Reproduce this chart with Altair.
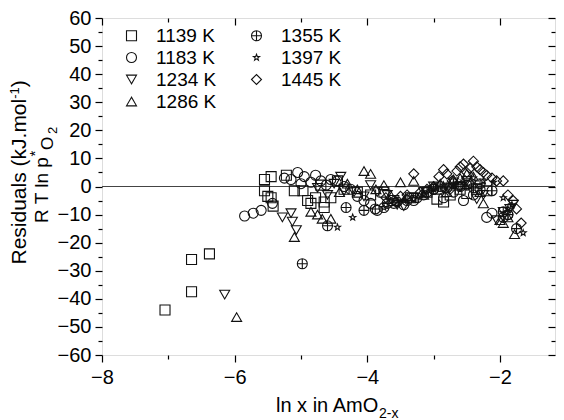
import altair as alt
import pandas as pd

FONT = "Liberation Sans"

temps = ["1139 K", "1183 K", "1234 K", "1286 K", "1355 K", "1397 K", "1445 K"]

x_1139 = [-7.05, -6.65, -6.65, -6.38, -5.55, -5.55, -5.5, -5.45, -5.45, -5.42, -5.22, -5.1, -4.97, -4.9,
          -4.85, -4.78, -4.7, -4.65, -4.65, -4.55, -4.45, -4.35, -4.15, -3.95, -3.75, -3.6, -3.35, -3.1,
          -2.95, -2.85, -2.75, -2.6, -2.5, -2.35, -2.2]
y_1139 = [-44, -37.5, -26, -24, 2.5, -1.5, -3.5, 3.5, -4, -7, 4, -1.5, -1.5, -5,
          -6, -4, 0.5, -5.5, -7.5, -4, 2, -1, -2, -3, -2, -5, -4, -2,
          -4.5, -5.5, -3, -1, -2.5, -1, -1.5]

x_1183 = [-5.85, -5.72, -5.6, -5.43, -5.25, -5.15, -5.05, -5.0, -4.95, -4.85, -4.78, -4.7, -4.62, -4.55,
          -4.45, -4.35, -4.25, -4.15, -4.05, -3.95, -3.85, -3.75, -3.6, -3.45, -3.3, -3.15, -3.0, -2.85,
          -2.7, -2.55, -2.4, -2.3, -2.2, -2.12, -1.95, -1.88]
y_1183 = [-10.5, -9.5, -8.5, -6, 3, 2.5, 5, 1, 3.5, 1.5, 4, 2, 0.5, 2.5,
          2, 0, -1, -3.5, -5, -6, -8.5, -7.5, -6, -6.5, -5, -3, -1, -4,
          -2, -5, -3, -1, -11, -9.5, -11, -10]

x_1234 = [-6.15, -5.28, -5.15, -5.13, -5.07, -4.75, -4.6, -4.5, -4.4, -4.35, -4.2, -4.05, -3.95, -3.85,
          -3.7, -3.55, -3.45, -3.3, -3.15, -3.0, -2.85, -2.7, -2.6, -2.5, -2.35, -2.25, -2.05, -1.95,
          -1.85, -1.8]
y_1234 = [-38.5, -11, -9.5, -12.5, -15.5, -0.5, -3, 1, 3.5, -1.5, -2, -3.5, 0.5, -2,
          -3, -6.5, -7, -4, -2, 0, -1, 1.5, 0, 2, -4.5, -3, -12, -9,
          -8, -6.5]

x_1286 = [-5.97, -5.1, -4.85, -4.75, -4.68, -4.55, -4.42, -4.3, -4.15, -4.05, -3.95, -3.87, -3.75, -3.65,
          -3.5, -3.4, -3.3, -3.15, -3.0, -2.9, -2.8, -2.7, -2.6, -2.5, -2.4, -2.3, -2.25, -2.0,
          -1.95, -1.88, -1.78]
y_1286 = [-46.5, -18, -9, -10, -11.5, -11.5, -2, 1, -1, 5.5, 4.5, -1, 0.5, -3,
          1.5, -4, 2, -3, 0, 1, -2, 2.5, 3, 4.5, 3.5, -2, -6, -12,
          -13, -11, -17]

x_1355 = [-4.98, -4.6, -4.32, -4.05, -3.88, -3.7, -3.55, -3.4, -3.25, -3.1, -3.0, -2.9, -2.8, -2.7,
          -2.6, -2.5, -2.4, -2.3, -2.12, -1.95, -1.88, -1.75]
y_1355 = [-27.5, -14, -7.5, -8.5, -8, -6, -5.5, -5, -4, -2, -1, 0, -0.5, 1,
          0, 0.5, -0.5, 1, -1.5, -9, -10, -15]

x_1397 = [-4.45, -4.22, -3.75, -3.6, -3.45, -3.3, -3.15, -3.0, -2.85, -2.7, -2.55, -2.4, -2.25, -2.1,
          -1.95, -1.88, -1.82, -1.65]
y_1397 = [-14.5, -11, -7.5, -6, -5, -4.5, -3, -1, 0.5, 1, 2, 3, 2, 1.5,
          -4, -8, -6.5, -16.5]

x_1445 = [-3.72, -3.6, -3.5, -3.4, -3.3, -3.2, -3.1, -3.0, -2.92, -2.85, -2.8, -2.72, -2.65, -2.6,
          -2.55, -2.5, -2.45, -2.4, -2.35, -2.3, -2.25, -2.2, -2.12, -2.05, -1.95, -1.88, -1.8, -1.75,
          -1.68, -2.75, -2.6, -2.45]
y_1445 = [-4, -5, -3.5, -3, 4.5, -2, -1, 0, 3.5, 6, 4.5, 2, 5.5, 7,
          8, 5, 6.5, 9, 7, 6, 5, 4, 3, 2, 2, -3, -5, -8,
          -13, -1, 0, 1]

series_x = [x_1139, x_1183, x_1234, x_1286, x_1355, x_1397, x_1445]
series_y = [y_1139, y_1183, y_1234, y_1286, y_1355, y_1397, y_1445]

df = pd.concat(
    [pd.DataFrame({"T": t, "x": xs, "y": ys}) for t, xs, ys in zip(temps, series_x, series_y)],
    ignore_index=True,
)

x_major = [-8, -6, -4, -2]
x_minor = [-7, -5, -3]
y_major = list(range(-60, 61, 10))
y_minor = list(range(-55, 56, 10))

CIRCLE_PLUS = "M-1,0A1,1,0,1,1,1,0A1,1,0,1,1,-1,0ZM-1,0L1,0M0,-1L0,1"
STAR = ("M0,-0.65L0.159,-0.218L0.618,-0.201L0.257,0.083L0.382,0.526L0,0.27"
        "L-0.382,0.526L-0.257,0.083L-0.618,-0.201L-0.159,-0.218Z")
shape_map = {
    "1139 K": "square",
    "1183 K": "circle",
    "1234 K": "triangle-down",
    "1286 K": "triangle-up",
    "1355 K": CIRCLE_PLUS,
    "1397 K": STAR,
    "1445 K": "diamond",
}
shape_range = [shape_map[t] for t in temps]

xscale = alt.Scale(domain=[-8, -1.17], nice=False, zero=False)
yscale = alt.Scale(domain=[-60, 60], nice=False, zero=False)


def ax(orient, values, size, labels=False, offset=0, pad=6):
    kw = dict(orient=orient, values=values, tickSize=size, domain=False, grid=False,
              title=None, labels=labels, ticks=True, tickColor="black", tickWidth=1.2)
    if offset:
        kw["offset"] = offset
    if labels:
        kw.update(labelFontSize=20, labelFont=FONT, labelColor="black",
                  labelPadding=pad, labelFlush=False, labelOverlap=False)
    return alt.Axis(**kw)


zero_line = alt.Chart(pd.DataFrame({"zero": [0]})).mark_rule(
    color="#444", strokeWidth=1
).encode(y=alt.Y("zero:Q", scale=yscale, axis=None))

points = alt.Chart(df).mark_point(
    filled=False, size=100, strokeWidth=1.1, color="#111", opacity=1
).encode(
    x=alt.X("x:Q", scale=xscale, axis=ax("bottom", x_major, 7, labels=True, pad=5)),
    y=alt.Y("y:Q", scale=yscale, axis=ax("left", y_major, 7, labels=True, pad=4)),
    shape=alt.Shape(
        "T:N",
        scale=alt.Scale(domain=temps, range=shape_range),
        legend=alt.Legend(
            title=None, orient="none", legendX=20, legendY=8, columns=2,
            columnPadding=30, rowPadding=2, labelFontSize=19, labelFont=FONT,
            labelColor="black", labelOffset=15, symbolSize=100, symbolStrokeWidth=1.1,
            symbolStrokeColor="#111", symbolFillColor="transparent", labelLimit=200,
        ),
    ),
)


def tick_layer(orient_x, orient_y, xv, yv, size, offset):
    return alt.Chart(df).mark_point(opacity=0).encode(
        x=alt.X("x:Q", scale=xscale, axis=ax(orient_x, xv, size, offset=offset)),
        y=alt.Y("y:Q", scale=yscale, axis=ax(orient_y, yv, size, offset=offset)),
    )


minor_bl = tick_layer("bottom", "left", x_minor, y_minor, 4, 0)
major_tr = tick_layer("top", "right", x_major, y_major, 7, -7)
minor_tr = tick_layer("top", "right", x_minor, y_minor, 4, -4)


def label(text, x, y, size, angle=0):
    kw = dict(text=text, fontSize=size, font=FONT, color="black", align="left",
              baseline="alphabetic")
    if angle:
        kw["angle"] = angle
    return alt.Chart(pd.DataFrame({"t": [text]})).mark_text(**kw).encode(
        x=alt.value(x), y=alt.value(y)
    )


titles = [
    # y title line 1
    label("Residuals (kJ.mol", -76.5, 246.5, 21, 270),
    label("-1", -83, 80.8, 13, 270),
    label(")", -76.5, 69.2, 21, 270),
    # y title line 2
    label("R T ln p", -54, 205, 19, 270),
    label("*", -62, 138.5, 15, 270),
    label("O", -49, 132, 17, 270),
    label("2", -45, 116, 13, 270),
    # x title
    label("ln x in AmO", 174, 394, 20),
    label("2-x", 277, 400, 14),
]

chart = alt.layer(zero_line, points, minor_bl, major_tr, minor_tr, *titles).resolve_axis(
    x="independent", y="independent"
).properties(
    width=548, height=337,
    autosize=alt.AutoSizeParams(type="fit-x", contains="padding"),
    padding={"left": 0, "top": 0, "right": 0, "bottom": 0},
).configure_view(
    stroke="black", strokeWidth=1.3
).configure(
    font=FONT
)

chart.save("out.html", embed_options={"renderer": "svg", "actions": False})
